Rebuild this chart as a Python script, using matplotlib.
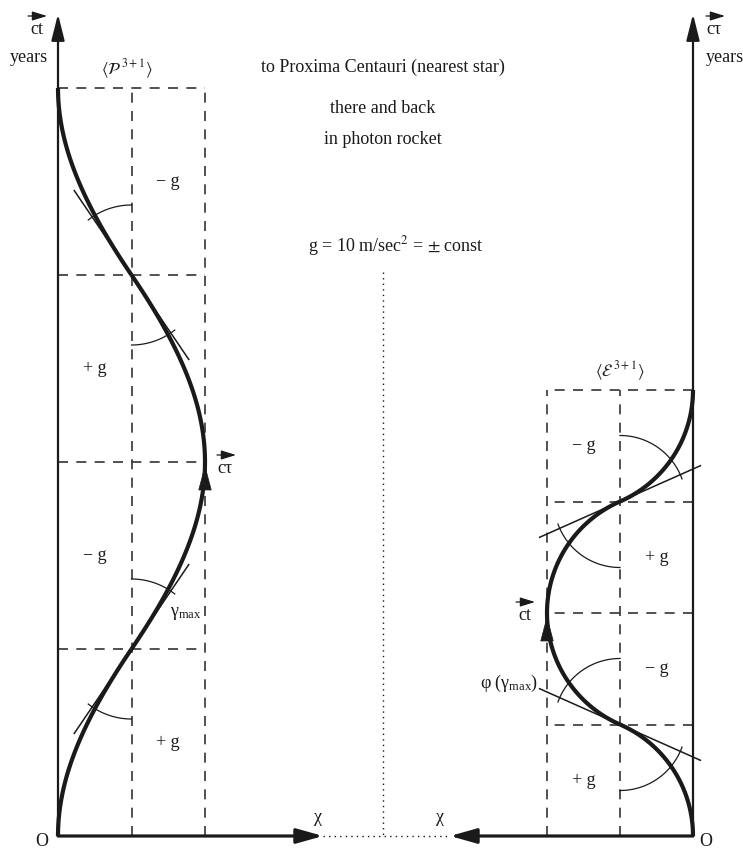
import numpy as np
import matplotlib
matplotlib.use("Agg")
import matplotlib.pyplot as plt

plt.rcParams['font.family'] = ['Liberation Serif', 'DejaVu Serif']
plt.rcParams['mathtext.fontset'] = 'stix'

# ---------------- data ----------------
# world-line knots in cell units (chi cells, ct cells): launch, v_max, turn, v_max, return
left_knot_x = [0, 1, 2, 1, 0]
left_knot_t = [0, 1, 2, 3, 4]
right_knot_x = [0, -1, -2, -1, 0]
right_knot_t = [0, 1, 2, 3, 4]
# acceleration sign in each ct cell (bottom to top)
phase_labels = ['+ g', '\u2212 g', '+ g', '\u2212 g']
title_lines = ['to Proxima Centauri (nearest star)', 'there and back', 'in photon rocket']
accel_text = r'g = 10 m/sec$^2$ = $\pm$ const'
left_space_label = r'$\langle\mathcal{P}^{\;3+1}\rangle$'
right_space_label = r'$\langle\mathcal{E}^{\;3+1}\rangle$'
gamma_label = '$\\mathregular{\u03b3_{max}}$'
phi_label = '$\\mathregular{\u03c6\\ (\u03b3_{max})}$'

# ---------------- layout ----------------
W, H = 743, 850
fig = plt.figure(figsize=(W / 100, H / 100), dpi=100)
ax = fig.add_axes([0, 0, 1, 1])
ax.set_xlim(0, W)
ax.set_ylim(H, 0)
ax.axis('off')

INK = '#1a1a1a'
DASH = '#333333'
FS = 13

L = dict(x0=58, y0=836, cw=73.5, ch=187, kind='hyp', arc_r=70, tan_len=102)
R = dict(x0=693, y0=836, cw=73, ch=111.5, kind='circ', arc_r=66, tan_len=88)


def px(cfg, x, t):
    return cfg['x0'] + cfg['cw'] * np.asarray(x, float), cfg['y0'] - cfg['ch'] * np.asarray(t, float)


def arc_from_vertical(V, C, kind, n=80):
    """Curve from V (vertical tangent) to C (inflection)."""
    dx, dy = C[0] - V[0], C[1] - V[1]
    sx, sy = np.sign(dx), np.sign(dy)
    ax_, ay_ = abs(dx), abs(dy)
    if kind == 'hyp':
        U = 2 * np.arctanh(ax_ / ay_)
        a = ax_ / (np.cosh(U) - 1)
        u = np.linspace(0, U, n)
        xs = V[0] + sx * a * (np.cosh(u) - 1)
        ys = V[1] + sy * a * np.sinh(u)
    else:
        Rr = (ax_ ** 2 + ay_ ** 2) / (2 * ax_)
        th = np.arcsin(min(ay_ / Rr, 1.0))
        u = np.linspace(0, th, n)
        xs = V[0] + sx * Rr * (1 - np.cos(u))
        ys = V[1] + sy * Rr * np.sin(u)
    return xs, ys


def draw_arrow(x0, y0, x1, y1, lw=2.0, hl=14, hw=8):
    ax.annotate('', xy=(x1, y1), xytext=(x0, y0),
                arrowprops=dict(arrowstyle='-|>,head_length=%g,head_width=%g' % (hl / 10, hw / 20),
                                lw=lw, color=INK, shrinkA=0, shrinkB=0,
                                mutation_scale=10))


def vec_label(x, y, txt, ha='center'):
    ax.text(x, y, txt, fontsize=FS, ha=ha, va='center', color=INK)
    xa = x - 9 if ha == 'center' else x
    ax.annotate('', xy=(xa + 19, y - 13), xytext=(xa, y - 13),
                arrowprops=dict(arrowstyle='-|>,head_length=0.9,head_width=0.28',
                                lw=0.9, color=INK, shrinkA=0, shrinkB=0, mutation_scale=10))


def draw_diagram(cfg, kx, kt, side):
    kx = np.asarray(kx, float)
    kt = np.asarray(kt, float)
    cols = [side * 1, side * 2]
    tmax = kt.max()
    for c in cols:
        xx, _ = px(cfg, c, 0)
        ax.plot([xx, xx], [cfg['y0'], cfg['y0'] - cfg['ch'] * tmax], color=DASH, lw=1.2,
                ls=(0, (6, 5)), zorder=2)
    for t in kt[1:]:
        xa, yy = px(cfg, 0, t)
        xb, _ = px(cfg, side * 2, t)
        ax.plot([xa, xb], [yy, yy], color=DASH, lw=1.2, ls=(0, (6, 5)), zorder=2)

    pts = [tuple(px(cfg, x, t)) for x, t in zip(kx, kt)]
    tangents = {}
    for i in range(len(pts) - 1):
        if i % 2 == 0:
            V, C, ci = pts[i], pts[i + 1], i + 1
        else:
            V, C, ci = pts[i + 1], pts[i], i
        xs, ys = arc_from_vertical(V, C, cfg['kind'])
        ax.plot(xs, ys, color=INK, lw=3.0, solid_capstyle='butt', zorder=4)
        d = np.array([xs[-1] - xs[-2], ys[-1] - ys[-2]])
        d /= np.hypot(*d)
        if d[1] > 0:
            d = -d
        tangents[ci] = d

    for ci, d in tangents.items():
        C = np.array(pts[ci])
        p1 = C + d * cfg['tan_len']
        p2 = C - d * cfg['tan_len']
        ax.plot([p1[0], p2[0]], [p1[1], p2[1]], color=INK, lw=1.1, zorder=3)
        ang_t = np.arctan2(d[1], d[0])
        ang_v = -np.pi / 2
        over = np.deg2rad(4) * np.sign(ang_t - ang_v)
        for flip in (0, np.pi):
            th = np.linspace(ang_v + flip, ang_t + flip + over, 60)
            r = cfg['arc_r']
            ax.plot(C[0] + r * np.cos(th), C[1] + r * np.sin(th), color=INK, lw=0.9, zorder=3)

    Tx, Ty = pts[2]
    ax.annotate('', xy=(Tx, Ty + 3), xytext=(Tx, Ty + 22),
                arrowprops=dict(arrowstyle='-|>,head_length=1.7,head_width=0.45',
                                lw=0.5, color=INK, shrinkA=0, shrinkB=0, mutation_scale=10),
                zorder=5)

    for i, lab in enumerate(phase_labels):
        if side > 0:
            c = min(kx[i], kx[i + 1])
            lc = (1 - c) + 0.5
        else:
            c = max(kx[i], kx[i + 1])
            lc = (-1 - c) - 0.5
        xx, yy = px(cfg, lc, i + 0.5)
        ax.text(xx, yy, lab, fontsize=FS, ha='center', va='center', color=INK)
    return pts


lp = draw_diagram(L, left_knot_x, left_knot_t, +1)
rp = draw_diagram(R, right_knot_x, right_knot_t, -1)

draw_arrow(L['x0'], L['y0'], L['x0'], 14, lw=1.6, hl=16, hw=8)
draw_arrow(L['x0'], L['y0'], 323, L['y0'], lw=2.3, hl=16, hw=9)
draw_arrow(R['x0'], R['y0'], R['x0'], 14, lw=1.6, hl=16, hw=8)
draw_arrow(R['x0'], R['y0'], 450, R['y0'], lw=2.3, hl=16, hw=9)

ax.plot([323, 450], [836, 836], color=INK, lw=1.0, ls=(0, (1, 3)))
ax.plot([383, 383], [272, 836], color=INK, lw=1.0, ls=(0, (1, 3)))

vec_label(37, 29, 'ct')
ax.text(29, 57, 'years', fontsize=FS, ha='center', va='center', color=INK)
vec_label(706, 29, 'c\u03c4', ha='left')
ax.text(706, 57, 'years', fontsize=FS, ha='left', va='center', color=INK)
ax.text(127, 69, left_space_label, fontsize=FS - 1, ha='center', va='center', color=INK)
ax.text(620, 371, right_space_label, fontsize=FS - 1, ha='center', va='center', color=INK)
for yy, line in zip([67, 108, 139], title_lines):
    ax.text(383, yy, line, fontsize=FS, ha='center', va='center', color=INK)
ax.text(396, 246, accel_text, fontsize=FS, ha='center', va='center', color=INK)

vec_label(217, 468, 'c\u03c4', ha='left')
vec_label(525, 615, 'ct')
ax.text(170, 614, gamma_label, fontsize=FS, ha='left', va='center', color=INK)
ax.text(509, 683, phi_label, fontsize=FS, ha='center', va='center', color=INK)
ax.text(318, 818, '\u03c7', fontsize=FS, ha='center', va='center', color=INK)
ax.text(440, 818, '\u03c7', fontsize=FS, ha='center', va='center', color=INK)
ax.text(42, 842, 'O', fontsize=FS, ha='center', va='center', color=INK)
ax.text(706, 842, 'O', fontsize=FS, ha='center', va='center', color=INK)

fig.savefig('out.png', dpi=100, facecolor='white')
